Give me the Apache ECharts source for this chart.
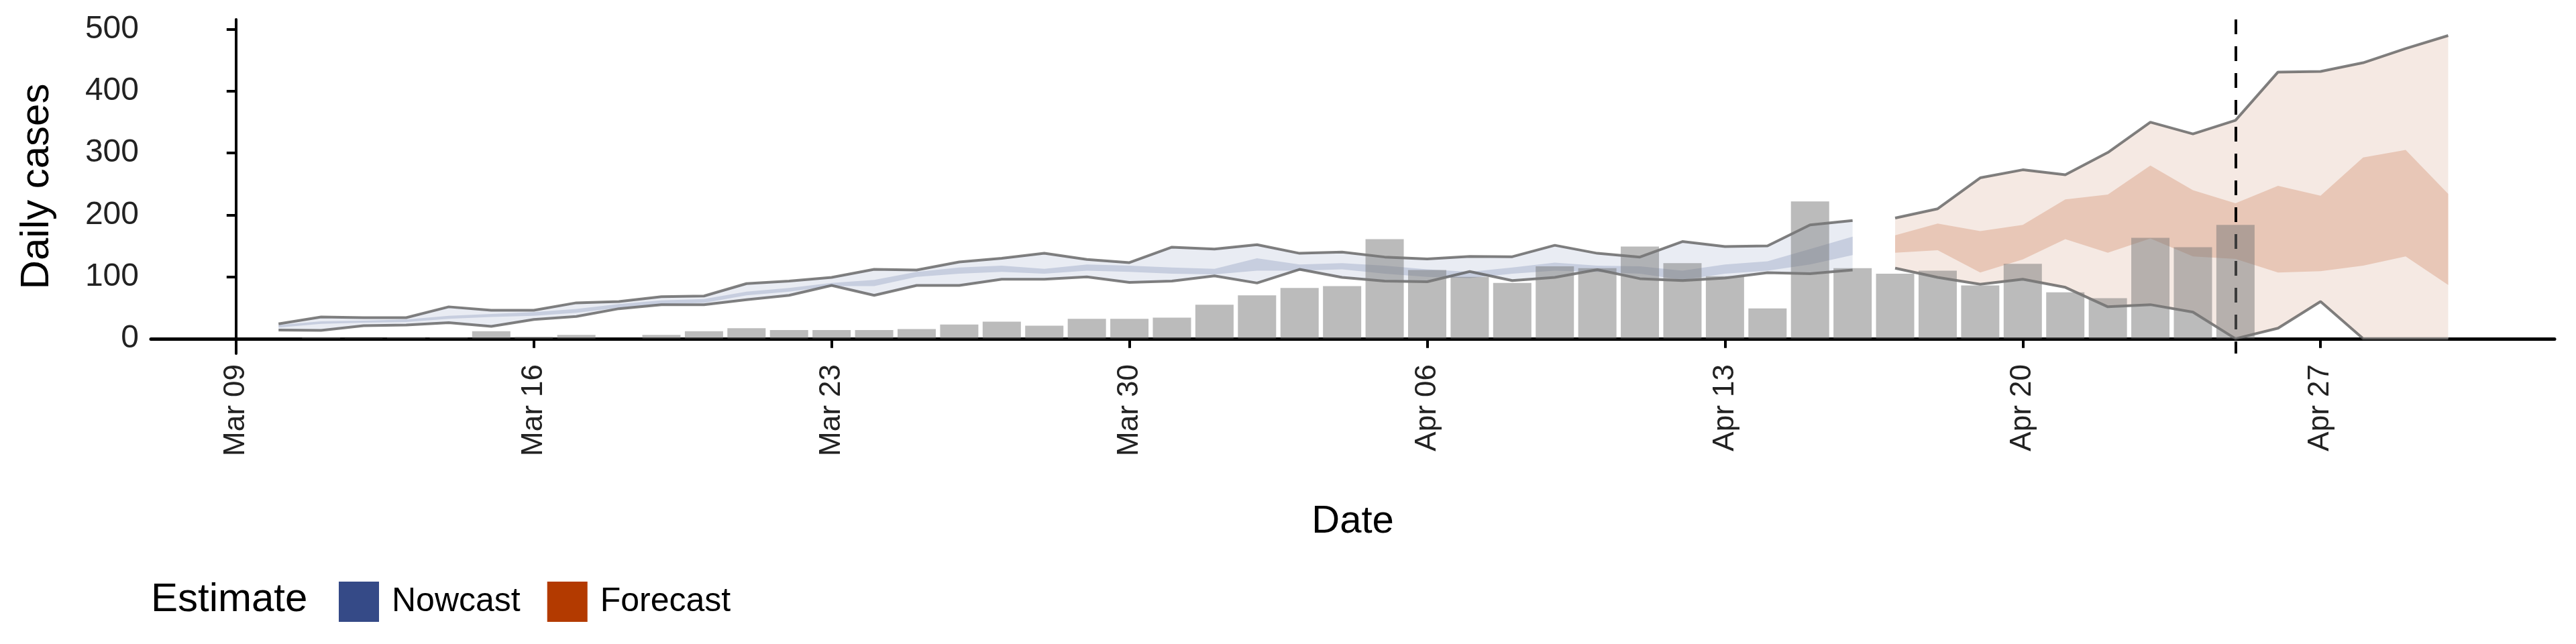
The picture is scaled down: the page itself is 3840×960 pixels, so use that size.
<!DOCTYPE html>
<html><head><meta charset="utf-8">
<script src="https://cdn.jsdelivr.net/npm/echarts@6/dist/echarts.min.js"></script>
<style>html,body{margin:0;padding:0;background:#fff}#c{width:3840px;height:960px}</style>
</head><body><div id="c"></div>
<script>
const origin = Date.UTC(2020, 2, 9); // Mar 09
const DAY = 86400000;
const tickLabels = ['Mar 09','Mar 16','Mar 23','Mar 30','Apr 06','Apr 13','Apr 20','Apr 27'];
const nowcastStart = '2020-03-10';
const nowUpper90 = [24,35,34,34,51.5,46,46,58,60,68,69,89,93,99,112,111,124,130,138,128,123,148,145,152,138,140,132,129,133,132.5,151,138,132,157,149,150,184,191];
const nowLower90 = [14,13.5,21,22,26,20,31,36,48.5,55,55,63,70,86,70,86,86,96,96,100,91,93,101.5,90,112,99,93,92,108.5,94,99,111.6,97,94,98,106.6,105,111];
const nowLower50 = [18,24,26,27,32,35,37,42,50,56,58,70,76,85,85,100,105,108,105,110,108,105,104,110,110,112,105,100,98,105,110,108,105,95,105,110,120,135];
const nowUpper50 = [22,28,29,31,37,40,43,48,56,62,64,76,82,90,95,108,115,118,113,120,118,115,113,130,120,122,118,112,108,115,123,118,117,110,120,125,145,165];
const casesStart = '2020-03-11';
const dailyCases = [1.5,1,1.5,1.5,12,3,6,0.5,6,12,17,14,14,14,15.5,23,27.5,21,32,32,34,55,70,82,85,161,111,100,90,117,114,149,122,101,49,222,114,105,110,86,121,75,65.5,163,148,184];
const forecastStart = '2020-04-17';
const fcUpper90 = [195,210,260,273,265,301,350,331,353,431,432,446,469,490];
const fcLower90 = [114,99,88,96,83,51.5,55,43,0,17,60,0,0,0];
const fcUpper50 = [167,186,174,184,225,233,280,240,219,247,231,293,305,234];
const fcLower50 = [139,143,107,128,161,139,162,133,129,107,109,118,133,87];
const estimateDate = '2020-04-25';
const FONT = 'Liberation Sans, Arial, sans-serif';

function dayOf(s){const p=s.split('-');return (Date.UTC(+p[0],+p[1]-1,+p[2])-origin)/DAY;}
function pts(start, arr){const d0=dayOf(start);return arr.map((v,i)=>[d0+i,v]);}
function band(start,lo,hi,color,z){
  const d0=dayOf(start);
  const data=lo.map((v,i)=>[d0+i,v,hi[i]]);
  return {type:'custom',silent:true,z:z,data:data,encode:{x:0,y:[1,2]},
    renderItem:function(params,api){
      if(params.dataIndex!==0) return null;
      const top=data.map(d=>api.coord([d[0],d[2]]));
      const bot=data.map(d=>api.coord([d[0],d[1]])).reverse();
      return {type:'polygon',shape:{points:top.concat(bot)},style:{fill:color}};
    }};
}
const lineStyle = {color:'rgba(85,85,85,0.75)',width:4};
const base = {type:'line',symbol:'none',silent:true,z:3};
const series = [
  band(nowcastStart,nowLower90,nowUpper90,'#e9ecf3',1),
  band(nowcastStart,nowLower50,nowUpper50,'#c7cedf',2),
  band(forecastStart,fcLower90,fcUpper90,'#f5e9e3',1),
  band(forecastStart,fcLower50,fcUpper50,'#e8c7b7',2),
  Object.assign({},base,{name:'nu',data:pts(nowcastStart,nowUpper90),lineStyle:lineStyle}),
  Object.assign({},base,{name:'nl',data:pts(nowcastStart,nowLower90),lineStyle:lineStyle}),
  Object.assign({},base,{name:'fu',data:pts(forecastStart,fcUpper90),lineStyle:lineStyle}),
  Object.assign({},base,{name:'fl',data:pts(forecastStart,fcLower90),lineStyle:lineStyle}),
  {type:'bar',name:'cases',data:pts(casesStart,dailyCases),barWidth:57,itemStyle:{color:'rgba(120,120,120,0.5)'},silent:true,z:5,
   markLine:{silent:true,symbol:'none',label:{show:false},lineStyle:{color:'#000',type:[22,18],width:4},data:[[{coord:[dayOf(estimateDate),516]},{coord:[dayOf(estimateDate),-24]}]]}},
  {type:'line',name:'Nowcast',data:[],itemStyle:{color:'#354a87'}},
  {type:'line',name:'Forecast',data:[],itemStyle:{color:'#b33a00'}}
];
const chart = echarts.init(document.getElementById('c'));
chart.setOption({
  animation:false,
  textStyle:{fontFamily:FONT},
  grid:{left:225,right:32,top:29,bottom:433},
  xAxis:{type:'value',min:-2.0,max:54.5,
    name:'Date',nameLocation:'middle',nameGap:222,nameTextStyle:{fontSize:58,color:'#000',fontFamily:FONT},
    axisLine:{lineStyle:{color:'#000',width:5}},
    axisTick:{customValues:[0,7,14,21,28,35,42,49],length:14,lineStyle:{color:'#000',width:4}},
    axisLabel:{customValues:[0,7,14,21,28,35,42,49],rotate:90,fontSize:44,color:'#222',margin:16,
      formatter:v=>tickLabels[Math.round(v/7)]},
    splitLine:{show:false}},
  yAxis:{type:'value',min:-24,max:516,
    name:'Daily cases',nameLocation:'middle',nameGap:140,nameTextStyle:{fontSize:60,color:'#000',fontFamily:FONT},
    axisLine:{show:true,lineStyle:{color:'#000',width:4}},
    axisTick:{show:true,customValues:[0,100,200,300,400,500],length:14,lineStyle:{color:'#000',width:4}},
    axisLabel:{customValues:[0,100,200,300,400,500],fontSize:48,color:'#222',margin:18},
    splitLine:{show:false}},
  legend:{left:500,top:862,itemWidth:60,itemHeight:60,itemGap:40,icon:'rect',
    textStyle:{fontSize:50,color:'#000',padding:[0,0,0,14]},
    data:[{name:'Nowcast',itemStyle:{color:'#354a87'}},{name:'Forecast',itemStyle:{color:'#b33a00'}}]},
  graphic:[{type:'text',left:225,top:864,style:{text:'Estimate',fontSize:60,fill:'#000',fontFamily:FONT}}],
  series:series
});
</script></body></html>
